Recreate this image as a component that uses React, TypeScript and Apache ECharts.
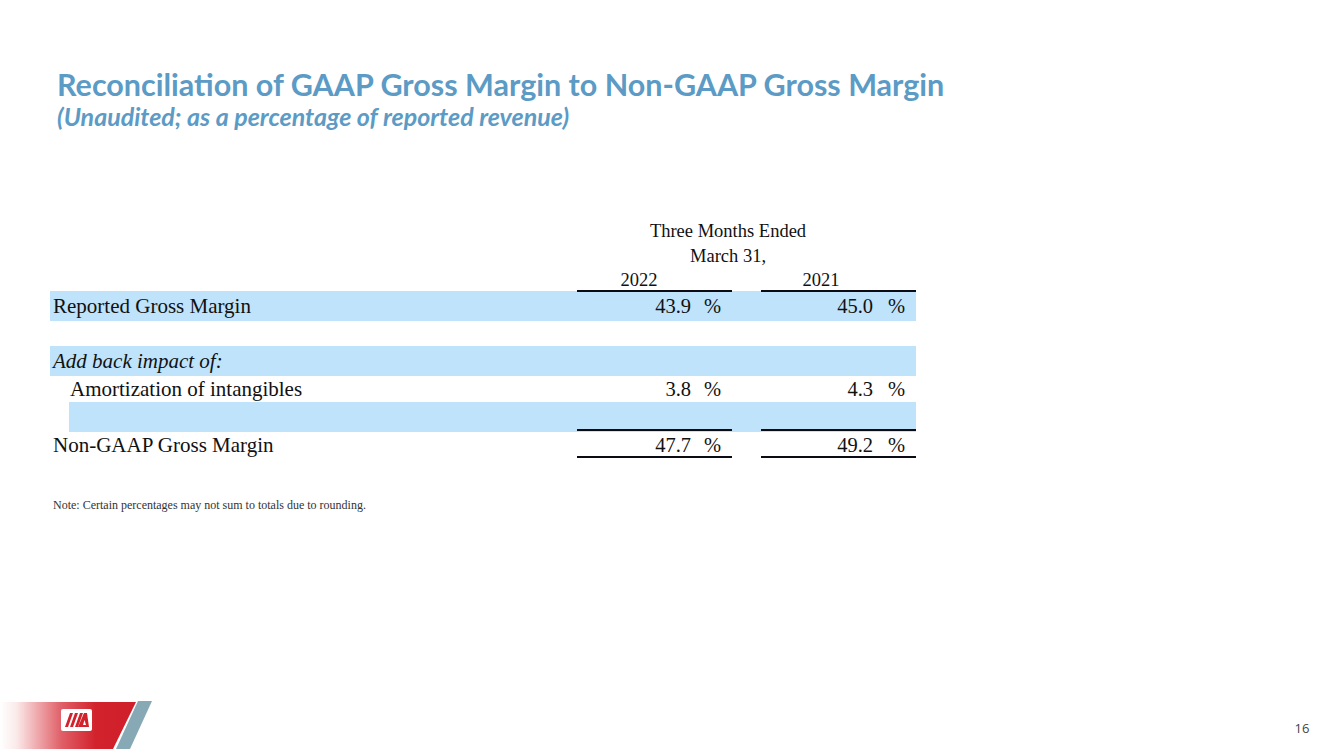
import React, { useEffect, useRef } from "react";
import * as echarts from "echarts";

// ---- content ----
const titleText = "Reconciliation of GAAP Gross Margin to Non-GAAP Gross Margin";
const subtitleText = "(Unaudited; as a percentage of reported revenue)";
const headerLines = ["Three Months Ended", "March 31,"];
const periods = ["2022", "2021"];
const rowLabels = [
  "Reported Gross Margin",
  "",
  "Add back impact of:",
  "Amortization of intangibles",
  "",
  "Non-GAAP Gross Margin",
];
const values2022: (number | null)[] = [43.9, null, null, 3.8, null, 47.7];
const values2021: (number | null)[] = [45.0, null, null, 4.3, null, 49.2];
const noteText = "Note: Certain percentages may not sum to totals due to rounding.";
const pageNumber = "16";

// ---- layout ----
const SERIF = "'Liberation Serif', 'Times New Roman', serif";
const rowTops = [291, 321, 346, 376, 402, 432, 457];
const bandedRows = [0, 2, 4];
const bandStartX = [50, 50, 50, 50, 69, 50];
const labelX = [53, 53, 53, 70, 53, 53];
const italicRows = [2];
const colValueRight = [691, 873];
const colPctLeft = [704, 888];
const colLineX = [
  [577, 732],
  [761, 916],
];
const BAND = "#BEE3FB";

function buildGraphics() {
  const g: any[] = [];
  // title
  g.push({
    type: "text",
    x: 57,
    y: 84,
    style: {
      text: titleText,
      fontFamily: "Lato, 'Open Sans', sans-serif",
      fontWeight: "bold",
      fontSize: 30.5,
      fill: "#5B9BC5",
      textAlign: "left",
      textVerticalAlign: "middle",
    },
  });
  g.push({
    type: "text",
    x: 57,
    y: 116,
    style: {
      text: subtitleText,
      fontFamily: "Lato, 'Open Sans', sans-serif",
      fontWeight: "bold",
      fontStyle: "italic",
      fontSize: 25,
      fill: "#5B9BC5",
      textAlign: "left",
      textVerticalAlign: "middle",
    },
  });

  // bands
  bandedRows.forEach((r) => {
    g.push({
      type: "rect",
      shape: { x: bandStartX[r], y: rowTops[r], width: 916 - bandStartX[r], height: rowTops[r + 1] - rowTops[r] },
      style: { fill: BAND },
    });
  });

  // header
  const headerY = [231, 256];
  headerLines.forEach((t, i) => {
    g.push({
      type: "text",
      x: 728,
      y: headerY[i],
      style: {
        text: t,
        fontFamily: SERIF,
        fontSize: 18.5,
        fill: "#111",
        textAlign: "center",
        textVerticalAlign: "middle",
      },
    });
  });
  periods.forEach((p, i) => {
    const cx = i === 0 ? 639 : 821;
    g.push({
      type: "text",
      x: cx,
      y: 280,
      style: {
        text: p,
        fontFamily: SERIF,
        fontSize: 18.5,
        fill: "#111",
        textAlign: "center",
        textVerticalAlign: "middle",
      },
    });
  });

  // rows
  rowLabels.forEach((label, r) => {
    const cy = (rowTops[r] + rowTops[r + 1]) / 2;
    if (label) {
      g.push({
        type: "text",
        x: labelX[r],
        y: cy,
        style: {
          text: label,
          fontFamily: SERIF,
          fontSize: 21,
          fontStyle: italicRows.includes(r) ? "italic" : "normal",
          fill: "#111",
          textAlign: "left",
          textVerticalAlign: "middle",
        },
      });
    }
    [values2022, values2021].forEach((vals, c) => {
      const v = vals[r];
      if (v === null || v === undefined) return;
      g.push({
        type: "text",
        x: colValueRight[c],
        y: cy,
        style: {
          text: v.toFixed(1),
          fontFamily: SERIF,
          fontSize: 20.5,
          fill: "#111",
          textAlign: "right",
          textVerticalAlign: "middle",
        },
      });
      g.push({
        type: "text",
        x: colPctLeft[c],
        y: cy,
        style: {
          text: "%",
          fontFamily: SERIF,
          fontSize: 20.5,
          fill: "#111",
          textAlign: "left",
          textVerticalAlign: "middle",
        },
      });
    });
  });

  // rules
  const ruleYs = [291, 430, 457];
  ruleYs.forEach((y) => {
    colLineX.forEach(([x1, x2]) => {
      g.push({
        type: "line",
        shape: { x1, y1: y, x2, y2: y },
        style: { stroke: "#0b0b14", lineWidth: 2 },
      });
    });
  });

  // note
  g.push({
    type: "text",
    x: 53,
    y: 505,
    style: {
      text: noteText,
      fontFamily: SERIF,
      fontSize: 12,
      fill: "#333",
      textAlign: "left",
      textVerticalAlign: "middle",
    },
  });

  // page number
  g.push({
    type: "text",
    x: 1302,
    y: 728,
    style: {
      text: pageNumber,
      fontFamily: "'Open Sans', sans-serif",
      fontSize: 13,
      fill: "#444",
      textAlign: "center",
      textVerticalAlign: "middle",
    },
  });

  // footer logo band
  g.push({
    type: "polygon",
    shape: { points: [[0, 702], [136, 702], [113, 749], [0, 749]] },
    style: {
      fill: new echarts.graphic.LinearGradient(0, 0, 1, 0, [
        { offset: 0, color: "#ffffff" },
        { offset: 0.12, color: "#fbeaea" },
        { offset: 0.45, color: "#e06068" },
        { offset: 0.7, color: "#d2232d" },
        { offset: 1, color: "#cf1f2a" },
      ]),
    },
  });
  g.push({
    type: "polygon",
    shape: { points: [[138, 701], [152, 701], [130, 749], [116, 749]] },
    style: { fill: "#86A9B5" },
  });
  g.push({
    type: "rect",
    shape: { x: 61, y: 709, width: 31, height: 22, r: 2 },
    style: { fill: "#ffffff" },
  });
  // mark inside the white box
  const stripes = [0, 5, 10];
  stripes.forEach((dx) => {
    g.push({
      type: "polygon",
      shape: {
        points: [
          [70 + dx, 713],
          [73 + dx, 713],
          [68 + dx, 727],
          [65 + dx, 727],
        ],
      },
      style: { fill: "#d2232d" },
    });
  });
  g.push({
    type: "polygon",
    shape: { points: [[84, 713], [87, 713], [89, 727], [78, 727]] },
    style: { fill: "#d2232d" },
  });
  g.push({
    type: "polygon",
    shape: { points: [[84.5, 720], [86, 725], [83, 725]] },
    style: { fill: "#ffffff" },
  });

  return g;
}

export default function App() {
  const ref = useRef<HTMLDivElement>(null);
  useEffect(() => {
    document.body.style.margin = "0";
    if (!ref.current) return;
    const chart = echarts.init(ref.current, null, { renderer: "svg" });
    chart.setOption({
      animation: false,
      backgroundColor: "#ffffff",
      graphic: { elements: buildGraphics() },
    });
    return () => chart.dispose();
  }, []);
  return <div ref={ref} style={{ width: 1333, height: 749 }} />;
}
